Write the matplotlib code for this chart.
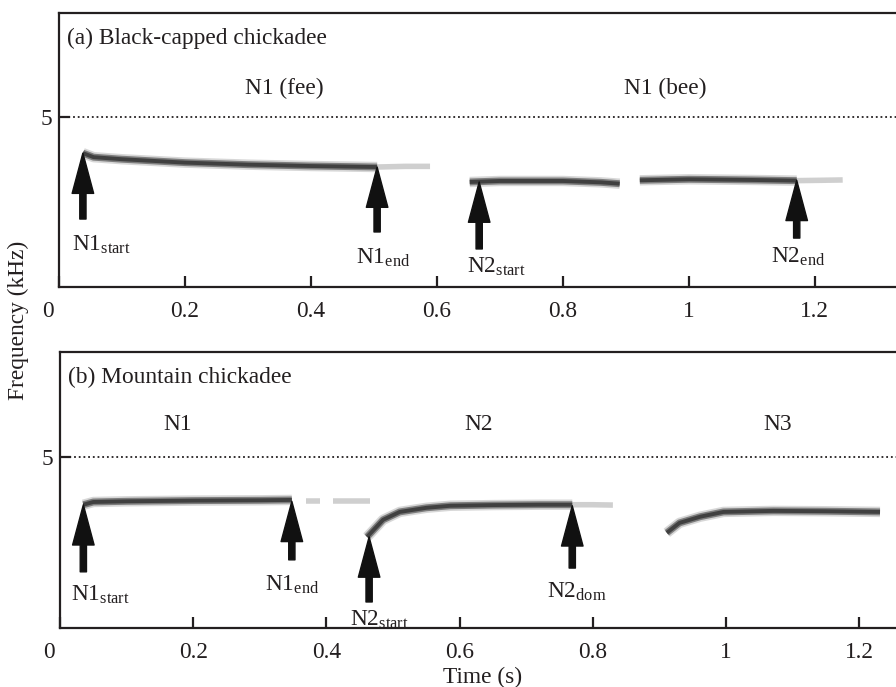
import matplotlib
matplotlib.use("Agg")
import matplotlib.pyplot as plt
from matplotlib.patches import FancyArrowPatch
from matplotlib.transforms import ScaledTranslation

plt.rcParams['font.family'] = ['Liberation Serif', 'DejaVu Serif']
plt.rcParams['mathtext.fontset'] = 'custom'
plt.rcParams['mathtext.rm'] = 'Liberation Serif'
plt.rcParams['mathtext.it'] = 'Liberation Serif:italic'

FS = 16.8
INK = '#231f20'

# ---------------- data ----------------
x_ticks = [0, 0.2, 0.4, 0.6, 0.8, 1.0, 1.2]
x_tick_labels = ['0', '0.2', '0.4', '0.6', '0.8', '1', '1.2']
y_ticks = [5]
y_tick_labels = ['5']
ref_freq = 5.0

# Panel (a) Black-capped chickadee
a_title = '(a) Black-capped chickadee'
a_note_labels = ['N1 (fee)', 'N1 (bee)']
a_note_x = [0.357, 0.962]
a_note_y = [5.85, 5.85]
a_trace1_t = [0.038, 0.055, 0.10, 0.20, 0.30, 0.40, 0.505]
a_trace1_f = [3.94, 3.82, 3.76, 3.66, 3.60, 3.56, 3.53]
a_tail1_t = [0.505, 0.55, 0.589]
a_tail1_f = [3.53, 3.55, 3.55]
a_trace2_t = [0.652, 0.70, 0.80, 0.86, 0.89]
a_trace2_f = [3.09, 3.12, 3.12, 3.08, 3.04]
a_trace3_t = [0.922, 1.00, 1.10, 1.171]
a_trace3_f = [3.14, 3.17, 3.15, 3.13]
a_tail3_t = [1.171, 1.21, 1.244]
a_tail3_f = [3.13, 3.14, 3.15]
a_arrow_t = [0.038, 0.505, 0.667, 1.171]
a_arrow_tip = [3.94, 3.53, 3.09, 3.14]
a_arrow_tail = [2.00, 1.62, 1.12, 1.44]
a_arrow_names = ['N1', 'N1', 'N2', 'N2']
a_arrow_subs = ['start', 'end', 'start', 'end']
a_label_t = [0.067, 0.514, 0.695, 1.173]
a_label_f = [1.24, 0.85, 0.59, 0.88]

# Panel (b) Mountain chickadee
b_title = '(b) Mountain chickadee'
b_note_labels = ['N1', 'N2', 'N3']
b_note_x = [0.177, 0.629, 1.078]
b_note_y = [5.94, 5.94, 5.94]
b_trace1_t = [0.035, 0.05, 0.10, 0.20, 0.30, 0.348]
b_trace1_f = [3.60, 3.68, 3.70, 3.72, 3.73, 3.74]
b_dash_t = [[0.37, 0.39], [0.41, 0.465]]
b_dash_f = [[3.70, 3.70], [3.70, 3.70]]
b_trace2_t = [0.461, 0.485, 0.51, 0.55, 0.586, 0.65, 0.72, 0.769]
b_trace2_f = [2.66, 3.16, 3.39, 3.51, 3.57, 3.59, 3.60, 3.60]
b_tail2_t = [0.769, 0.80, 0.83]
b_tail2_f = [3.60, 3.60, 3.59]
b_trace3_t = [0.911, 0.93, 0.961, 0.996, 1.071, 1.15, 1.231]
b_trace3_f = [2.78, 3.07, 3.25, 3.39, 3.42, 3.41, 3.39]
b_arrow_t = [0.035, 0.348, 0.464, 0.769]
b_arrow_tip = [3.60, 3.70, 2.66, 3.57]
b_arrow_tail = [1.64, 1.99, 0.76, 1.75]
b_arrow_names = ['N1', 'N1', 'N2', 'N2']
b_arrow_subs = ['start', 'end', 'start', 'dom']
b_label_t = [0.061, 0.348, 0.479, 0.776]
b_label_f = [0.96, 1.26, 0.23, 1.05]

# ---------------- drawing ----------------
fig = plt.figure(figsize=(8.96, 6.87), dpi=100)
ax_a = fig.add_axes([0.0658, 0.5822, 1 - 0.0658, 0.3988])
ax_b = fig.add_axes([0.0670, 0.0859, 1 - 0.0670, 0.4017])


def trace(ax, t, f, strong=True):
    if strong:
        ax.plot(t, f, color='#a8a8a8', lw=7.5, alpha=0.45, solid_capstyle='butt', zorder=2)
        ax.plot(t, f, color='#6e6e6e', lw=5, alpha=0.85, solid_capstyle='butt', zorder=3)
        ax.plot(t, f, color='#404040', lw=2.8, solid_capstyle='butt', zorder=4)
    else:
        ax.plot(t, f, color='#c4c4c4', lw=4, alpha=0.8, solid_capstyle='butt', zorder=2)


def style(ax, xmax, title, note_labels, nx, ny):
    ax.set_xlim(0, xmax)
    ax.set_ylim(0, 8.06)
    for s in ['left', 'bottom', 'top']:
        ax.spines[s].set_linewidth(1.6)
        ax.spines[s].set_color(INK)
    ax.spines['right'].set_visible(False)
    ax.set_xticks(x_ticks)
    ax.set_xticklabels(x_tick_labels, fontsize=FS, color=INK)
    ax.set_yticks(y_ticks)
    ax.set_yticklabels(y_tick_labels, fontsize=FS, color=INK)
    ax.tick_params(axis='x', direction='in', length=8, width=1.6, pad=10, color=INK)
    ax.tick_params(axis='y', direction='in', length=8, width=1.6, pad=5, color=INK)
    lbl = ax.get_xticklabels()[0]
    lbl.set_transform(lbl.get_transform() + ScaledTranslation(-11 / 100, 0, fig.dpi_scale_trans))
    ax.axhline(ref_freq, color=INK, lw=1.3, ls=(0, (1, 1.6)), zorder=1)
    ax.text(0.0096, 0.909, title, transform=ax.transAxes, fontsize=FS, color=INK,
            ha='left', va='center')
    for lab, x, y in zip(note_labels, nx, ny):
        ax.text(x, y, lab, fontsize=FS, color=INK, ha='center', va='center')


def arrows(ax, ts, tips, tails, names, subs, lt, lf):
    for t, tip, tail, n, s, x, y in zip(ts, tips, tails, names, subs, lt, lf):
        p = FancyArrowPatch((t, tail), (t, tip),
                            arrowstyle='simple,head_length=2.9,head_width=1.55,tail_width=0.45',
                            mutation_scale=10, color='#111111', shrinkA=0, shrinkB=0, zorder=6)
        ax.add_patch(p)
        ax.text(x, y, n + r'$_{\mathrm{' + s + '}}$', fontsize=FS, color=INK,
                ha='center', va='center')


# panel a
style(ax_a, 1.3286, a_title, a_note_labels, a_note_x, a_note_y)
trace(ax_a, a_trace1_t, a_trace1_f)
trace(ax_a, a_tail1_t, a_tail1_f, strong=False)
trace(ax_a, a_trace2_t, a_trace2_f)
trace(ax_a, a_trace3_t, a_trace3_f)
trace(ax_a, a_tail3_t, a_tail3_f, strong=False)
arrows(ax_a, a_arrow_t, a_arrow_tip, a_arrow_tail, a_arrow_names, a_arrow_subs,
       a_label_t, a_label_f)

# panel b
style(ax_b, 1.255, b_title, b_note_labels, b_note_x, b_note_y)
trace(ax_b, b_trace1_t, b_trace1_f)
for dt, df in zip(b_dash_t, b_dash_f):
    trace(ax_b, dt, df, strong=False)
trace(ax_b, b_trace2_t, b_trace2_f)
trace(ax_b, b_tail2_t, b_tail2_f, strong=False)
trace(ax_b, b_trace3_t, b_trace3_f)
arrows(ax_b, b_arrow_t, b_arrow_tip, b_arrow_tail, b_arrow_names, b_arrow_subs,
       b_label_t, b_label_f)

fig.text(0.021, 0.534, 'Frequency (kHz)', rotation=90, fontsize=FS, color=INK,
         ha='center', va='center')
fig.text(0.539, 0.0146, 'Time (s)', fontsize=FS, color=INK, ha='center', va='center')

fig.savefig('out.png', dpi=100)
